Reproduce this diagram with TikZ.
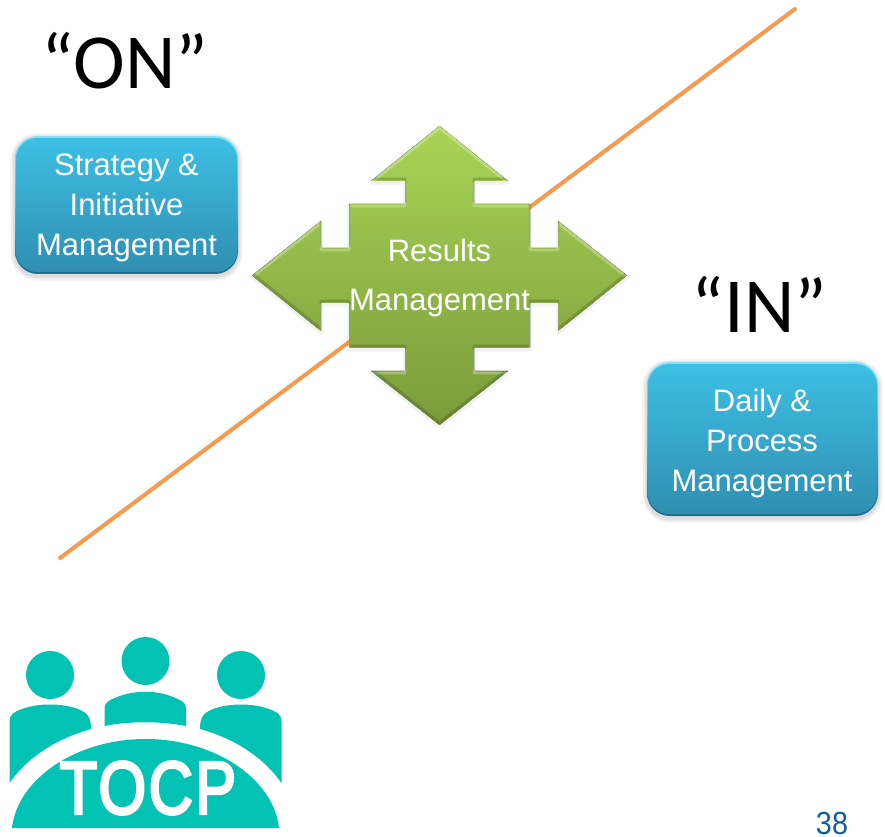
\documentclass[tikz,border=0pt]{standalone}
\usepackage{fontspec}
\setmainfont{Liberation Sans}
\newfontfamily\quotefont{Carlito}
\newfontfamily\logofont[FakeBold=4,LetterSpace=4]{Liberation Sans}
\definecolor{lineorange}{HTML}{F79A50}
\definecolor{boxtop}{HTML}{3DBFE4}
\definecolor{boxbot}{HTML}{2F8FB1}
\definecolor{boxlight}{HTML}{86E3F7}
\definecolor{boxdark}{HTML}{1F6C88}
\definecolor{greentop}{HTML}{A8D455}
\definecolor{greenbot}{HTML}{7A9B3B}
\definecolor{logoteal}{HTML}{02C2B3}
\definecolor{pagenum}{HTML}{0F5F9A}
\tikzset{
  boxtext/.style={text=white,align=center,inner sep=0pt,font=\fontsize{23.25}{30}\selectfont},
  boxedge/.style={rounded corners=17pt,top color=boxlight,bottom color=boxdark,middle color=boxtop},
  boxface/.style={rounded corners=16pt,top color=boxtop,bottom color=boxbot},
  bigquote/.style={font=\quotefont\fontsize{58.5}{64}\selectfont,text=black,inner sep=0pt},
  softshadow/.style={draw=black,line join=round,rounded corners=17pt,opacity=.04},
  logofill/.style={fill=logoteal,draw=none},
}
\newcommand{\crossoutline}{(439.5,126) -- (508,181) -- (474,181) -- (474,204) -- (530,204) -- (530,248)
  -- (558,248) -- (558,221) -- (627,275.5) -- (558,331) -- (558,303) -- (530,303) -- (530,348)
  -- (474,348) -- (474,371) -- (508,371) -- (439.5,425) -- (371,371) -- (405,371) -- (405,348)
  -- (349,348) -- (349,303) -- (321,303) -- (321,331) -- (252,275.5) -- (321,221) -- (321,248)
  -- (349,248) -- (349,204) -- (405,204) -- (405,181) -- (371,181) -- cycle}
\newcommand{\logobody}{(9.5,783) -- (9.5,722) .. controls (9.5,714) and (14,712) .. (22,709)
  .. controls (38,703) and (62,703) .. (78,709) .. controls (87,713) and (91,716) .. (91,729)
  .. controls (55,739) and (27,758) .. (9.5,783) -- cycle}
\begin{document}
\begin{tikzpicture}[x=.75pt,y=-.75pt]
\useasboundingbox (0,0) rectangle (885,837);
% diagonal line
\coordinate (lineA) at (795,9);
\coordinate (lineB) at (60,558);
\draw[line width=3pt,lineorange,line cap=round] (lineA) -- (lineB);
% box shadows
\foreach \w in {7,5,3,1}{
  \draw[softshadow,line width=\w pt] (15,138) rectangle (238,276);
  \draw[softshadow,line width=\w pt] (647,364) rectangle (878,518);
}
% labels
\node[bigquote] (on) at (125,61) {“ON”};
\node[bigquote] (in) at (759.5,304.5) {“IN”};
% boxes
\path[boxedge] (15,136) rectangle (238,274);
\path[boxface] (16,138) rectangle (237,272);
\path[boxedge] (647,362) rectangle (878,516);
\path[boxface] (648,364) rectangle (877,514);
\node[boxtext] (strategy) at (126.5,208) {Strategy \&\\Initiative\\Management};
\node[boxtext] (daily) at (762,443.5) {Daily \&\\Process\\Management};
% cross arrow
\draw[black,opacity=.05,line width=3pt,line join=round] [yshift=-1.2pt] \crossoutline;
\begin{scope}
  \clip \crossoutline;
  \fill[top color=greentop,bottom color=greenbot] (252,126) rectangle (627,425);
  \begin{scope}[yshift=-1.6pt]
    \draw[white,opacity=.28,line width=2pt,line join=round] \crossoutline;
  \end{scope}
  \begin{scope}[yshift=1.6pt]
    \draw[black!70!greenbot,opacity=.22,line width=2pt,line join=round] \crossoutline;
  \end{scope}
\end{scope}
\node[text=white,align=center,inner sep=0pt,font=\fontsize{23.25}{36.75}\selectfont] (results) at (439.5,278) {Results\\Management};
% logo
\fill[logofill] (50,675) circle (24);
\fill[logofill] (145.5,661) circle (24);
\fill[logofill] (241,675) circle (24);
\fill[logofill] \logobody;
\begin{scope}[xscale=-1,xshift=-218.25pt]
  \fill[logofill] \logobody;
\end{scope}
\fill[logofill] (104.5,726) -- (104.5,708) .. controls (104.5,702) and (110,700) .. (117,697)
  .. controls (135,690) and (156,690) .. (173,697) .. controls (180,700) and (186,702) .. (186,708)
  -- (186,726) .. controls (160,721) and (130,721) .. (104.5,726) -- cycle;
\fill[logofill] (12,828) .. controls (17,780) and (75,739) .. (145.5,739)
  .. controls (216,739) and (274,780) .. (279,828) -- cycle;
\node[text=white,inner sep=0pt,font=\logofont\fontsize{56}{60}\selectfont,xscale=.82] (tocp) at (148,788) {TOCP};
% page number
\node[text=pagenum,inner sep=0pt,font=\fontsize{24}{27}\selectfont,xscale=.9,anchor=base] (page) at (832,834) {38};
\end{tikzpicture}
\end{document}
